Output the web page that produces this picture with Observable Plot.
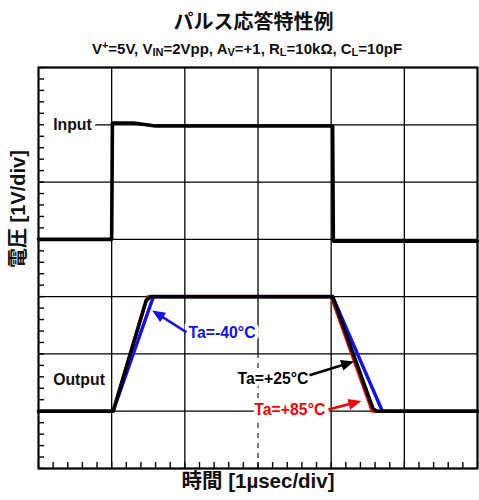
<!DOCTYPE html>
<html><head><meta charset="utf-8">
<script src="https://cdn.jsdelivr.net/npm/d3@7"></script>
<script src="https://cdn.jsdelivr.net/npm/@observablehq/plot@0.6"></script>
<style>
body{margin:0;background:#fff;width:479px;}
#title{font-family:"Liberation Sans","Noto Sans CJK JP",sans-serif;font-weight:bold;font-size:20px;height:36px;line-height:36px;padding-top:4px;padding-left:28px;text-align:center;color:#111;}
#sub{font-family:"Liberation Sans",Arial,sans-serif;font-weight:bold;font-size:15px;height:20px;line-height:20px;margin-top:-1px;padding-left:15px;text-align:center;color:#111;}
#sub sub,#sub sup{font-size:11px;line-height:0;}
#sub sub{vertical-align:-2px;}
#sub sup{vertical-align:5px;}
</style></head>
<body>
<div id="title">パルス応答特性例</div>
<div id="sub">V<sup>+</sup>=5V, V<sub>IN</sub>=2Vpp, A<sub>V</sub>=+1, R<sub>L</sub>=10kΩ, C<sub>L</sub>=10pF</div>
<div id="chart"></div>
<script>
// ---- data (time in µs, voltage in V on the 1V/div screen) ----
const xMajor = [0, 1, 2, 3, 4, 5, 6];
const yMajor = [0, 1, 2, 3, 4, 5, 6, 7];
const xMinor = d3.range(0, 30.01, 1).map(d => d / 5);
const yMinor = d3.range(0, 35.01, 1).map(d => d / 5);

const inputT = [0, 1.0, 1.01, 1.3, 1.6, 4.02, 4.03, 6];
const inputV = [4.0, 4.0, 6.03, 6.03, 5.98, 5.98, 3.97, 3.97];

const out85T = [0, 1.02, 1.49, 4.0, 4.56, 6];
const out85V = [1, 1, 3, 3, 1, 1];
const outM40T = [0, 1.02, 1.57, 4.02, 4.70, 6];
const outM40V = [1, 1, 3, 3, 1, 1];
const out25T = [0, 1.02, 1.47, 1.53, 4.02, 4.57, 4.62, 6];
const out25V = [1, 1, 2.93, 3.0, 3.0, 1.05, 1.0, 1.0];

const traceLabels = ["Input", "Output"];
const traceLabelT = [0.2, 0.2];
const traceLabelV = [6.0, 1.55];
const inputGridStart = 0.78;

const annLabels = ["Ta=-40°C", "Ta=+25°C", "Ta=+85°C"];
const annColors = ["#1010f0", "#000000", "#ff0000"];
const annTextT = [2.05, 2.72, 2.95];
const annTextV = [2.37, 1.56, 1.03];
const annTailT = [2.03, 3.71, 3.97];
const annTailV = [2.37, 1.62, 1.02];
const annTipT = [1.56, 4.32, 4.42];
const annTipV = [2.75, 1.86, 1.17];

const pts = (T, V) => T.map((t, i) => ({t, v: V[i]}));
const anns = annLabels.map((label, i) => ({label, color: annColors[i], t: annTextT[i], v: annTextV[i]}));
const tl = traceLabels.map((label, i) => ({label, t: traceLabelT[i], v: traceLabelV[i]}));

function arrows(index, scales) {
  const g = d3.create("svg:g");
  annLabels.forEach((_, i) => {
    const x1 = scales.x(annTailT[i]), y1 = scales.y(annTailV[i]);
    const x2 = scales.x(annTipT[i]), y2 = scales.y(annTipV[i]);
    const dx = x2 - x1, dy = y2 - y1, L = Math.hypot(dx, dy), ux = dx / L, uy = dy / L;
    const hl = 13, hw = 5.5;
    const bx = x2 - ux * hl, by = y2 - uy * hl;
    g.append("line").attr("x1", x1).attr("y1", y1).attr("x2", bx + ux * 2).attr("y2", by + uy * 2)
      .attr("stroke", annColors[i]).attr("stroke-width", 2.6);
    g.append("path").attr("d", `M${x2},${y2}L${bx - uy * hw},${by + ux * hw}L${bx + uy * hw},${by - ux * hw}Z`)
      .attr("fill", annColors[i]);
  });
  return g.node();
}

const font = "'Liberation Sans', 'Noto Sans CJK JP', sans-serif";
const chart = Plot.plot({
  width: 479, height: 440,
  marginLeft: 38, marginRight: 2, marginTop: 8, marginBottom: 31,
  x: {domain: [0, 6], axis: null},
  y: {domain: [0, 7], axis: null},
  style: {fontFamily: font, background: "white"},
  marks: [
    Plot.ruleX(xMajor.filter(d => d !== 3), {stroke: "black", strokeWidth: 1.3}),
    Plot.ruleX([3], {y1: 2, y2: 7, stroke: "black", strokeWidth: 1.3}),
    Plot.ruleX([3], {y1: 0, y2: 2, stroke: "#333", strokeWidth: 1.3, strokeDasharray: "5,5"}),
    Plot.ruleY(yMajor.filter(d => d !== 6), {stroke: "black", strokeWidth: 1.3}),
    Plot.ruleY([6], {x1: inputGridStart, x2: 6, stroke: "black", strokeWidth: 1.3}),
    Plot.axisY(yMinor, {anchor: "left", tickSize: -6, tickFormat: () => "", label: null, strokeWidth: 1.4}),
    Plot.axisX(xMinor, {anchor: "bottom", tickSize: -6, tickFormat: () => "", label: null, strokeWidth: 1.4}),
    Plot.text(tl, {x: "t", y: "v", text: "label", textAnchor: "start", fontSize: 15.8, fontWeight: "bold", fill: "#111", stroke: "white", strokeWidth: 8}),
    Plot.text(anns, {x: "t", y: "v", text: "label", textAnchor: "start", fontSize: 15.8, fontWeight: "bold", fill: d => d.color, stroke: "white", strokeWidth: 8}),
    Plot.line(pts(inputT, inputV), {x: "t", y: "v", stroke: "black", strokeWidth: 3.6}),
    Plot.line(pts(out85T, out85V), {x: "t", y: "v", stroke: "#ff0000", strokeWidth: 3}),
    Plot.line(pts(outM40T, outM40V), {x: "t", y: "v", stroke: "#1010f0", strokeWidth: 3.4}),
    Plot.line(pts(out25T, out25V), {x: "t", y: "v", stroke: "black", strokeWidth: 3.6}),
    arrows,
    Plot.frame({stroke: "black", strokeWidth: 2}),
    Plot.text(["電圧 [1V/div]"], {frameAnchor: "left", dx: -20, rotate: -90, fontSize: 20, fontWeight: "bold", fill: "#111"}),
    Plot.text(["時間 [1µsec/div]"], {frameAnchor: "bottom", dy: 19, fontSize: 20.5, fontWeight: "bold", fill: "#111"})
  ]
});
document.getElementById("chart").append(chart);
</script>
</body></html>
